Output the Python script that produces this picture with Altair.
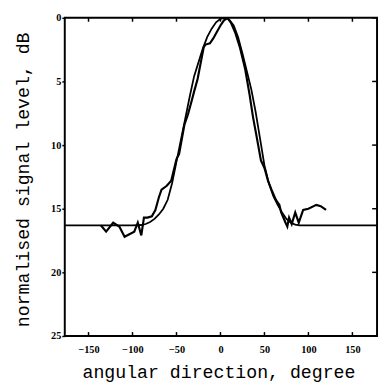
import altair as alt
import pandas as pd

# smooth (fitted) beam pattern
fit_x = [-177, -100, -90, -85, -80, -75, -70, -65, -60, -55, -50, -45, -40, -35, -30, -25, -20, -15, -10, -5,
         0, 5, 10, 15, 20, 25, 30, 35, 40, 45, 50, 55, 60, 65, 70, 75, 80, 85, 90, 178]
fit_db = [16.3, 16.3, 16.28, 16.2, 16.05, 15.8, 15.45, 15.0, 14.3, 13.0, 11.3, 9.6, 7.9, 6.2, 4.6, 3.5, 2.4, 1.5, 0.85, 0.35,
          0.08, 0.0, 0.15, 0.6, 1.5, 2.8, 4.2, 5.6, 7.4, 9.5, 11.6, 13.0, 14.0, 14.7, 15.3, 15.8, 16.1, 16.25, 16.3, 16.3]

# measured beam pattern
meas_x = [-136, -130, -122, -115, -109, -98, -94, -90, -87, -83, -78, -74, -70, -67, -61, -56, -50, -47, -41, -37,
          -33, -30, -26, -19, -17, -12, -8, -4, 0, 4, 8, 12, 17, 22, 28, 33, 37, 41, 46, 50,
          54, 58, 63, 67, 69, 74, 76, 78, 81, 85, 89, 94, 100, 109, 114, 120]
meas_db = [16.3, 16.8, 16.1, 16.4, 17.2, 16.8, 16.1, 17.1, 15.7, 15.7, 15.6, 15.1, 14.1, 13.5, 13.2, 12.8, 11.1, 10.7, 8.4, 7.6,
           6.6, 5.8, 4.8, 2.3, 2.1, 2.0, 1.6, 1.1, 0.6, 0.2, 0.0, 0.4, 1.2, 2.3, 4.0, 6.0, 7.8, 9.3, 11.2, 11.8,
           12.8, 13.5, 14.3, 14.7, 15.3, 16.1, 16.4, 15.7, 16.2, 15.3, 16.1, 15.1, 15.0, 14.7, 14.8, 15.1]

x_ticks = [-150, -100, -50, 0, 50, 100, 150]
y_ticks = [0, 5, 10, 15, 20, 25]

W, H = 319, 325

fit_df = pd.DataFrame({"x": fit_x, "db": fit_db, "i": range(len(fit_x))})
meas_df = pd.DataFrame({"x": meas_x, "db": meas_db, "i": range(len(meas_x))})
xt_df = pd.DataFrame({"x": x_ticks})
yt_df = pd.DataFrame({"db": y_ticks})

xs = alt.Scale(domain=[-177, 178], nice=False, zero=False)
ys = alt.Scale(domain=[0, 25], reverse=True, nice=False, zero=False)

xaxis = alt.Axis(values=x_ticks, title="angular direction, degree", ticks=False, domain=False, grid=False,
                 labelFont="Liberation Serif", labelFontWeight="bold", labelFontSize=10.5, labelColor="black",
                 labelPadding=9, titleFont="Liberation Mono", titleFontSize=18.6, titleFontWeight="normal",
                 titleColor="black", titleX=157, titleY=42, titleBaseline="alphabetic", titleAlign="center")
yaxis = alt.Axis(values=y_ticks, title="normalised signal level, dB", tickSize=3, tickColor="black", tickWidth=1.5,
                 domain=False, grid=False, labelFont="Liberation Serif", labelFontWeight="bold", labelFontSize=10.5,
                 labelColor="black", labelPadding=1, titleFont="Liberation Mono", titleFontSize=18.6,
                 titleFontWeight="normal", titleColor="black", titleX=-43, titleY=165, titleAngle=270,
                 titleAlign="center", titleBaseline="middle")

fit = alt.Chart(fit_df).mark_line(color="black", strokeWidth=1.8, clip=True).encode(
    x=alt.X("x:Q", scale=xs, axis=xaxis), y=alt.Y("db:Q", scale=ys, axis=yaxis), order="i:Q")
meas = alt.Chart(meas_df).mark_line(color="black", strokeWidth=2.2, clip=True).encode(
    x=alt.X("x:Q", scale=xs), y=alt.Y("db:Q", scale=ys), order="i:Q")

top_ticks = alt.Chart(xt_df).mark_rule(color="black", strokeWidth=1.5).encode(
    x=alt.X("x:Q", scale=xs), y=alt.value(0), y2=alt.value(4))
bot_ticks = alt.Chart(xt_df).mark_rule(color="black", strokeWidth=1.5).encode(
    x=alt.X("x:Q", scale=xs), y=alt.value(H - 4), y2=alt.value(H))
right_ticks = alt.Chart(yt_df).mark_rule(color="black", strokeWidth=1.5).encode(
    y=alt.Y("db:Q", scale=ys), x=alt.value(W - 5), x2=alt.value(W))

chart = alt.layer(fit, meas, top_ticks, bot_ticks, right_ticks).properties(
    width=W, height=H,
    padding={"left": 58, "top": 6, "right": 2, "bottom": 44},
    autosize=alt.AutoSizeParams(type="none"),
    background="white",
).configure_view(stroke="black", strokeWidth=2)

chart.save("out.html", embed_options={"renderer": "svg", "actions": False})
